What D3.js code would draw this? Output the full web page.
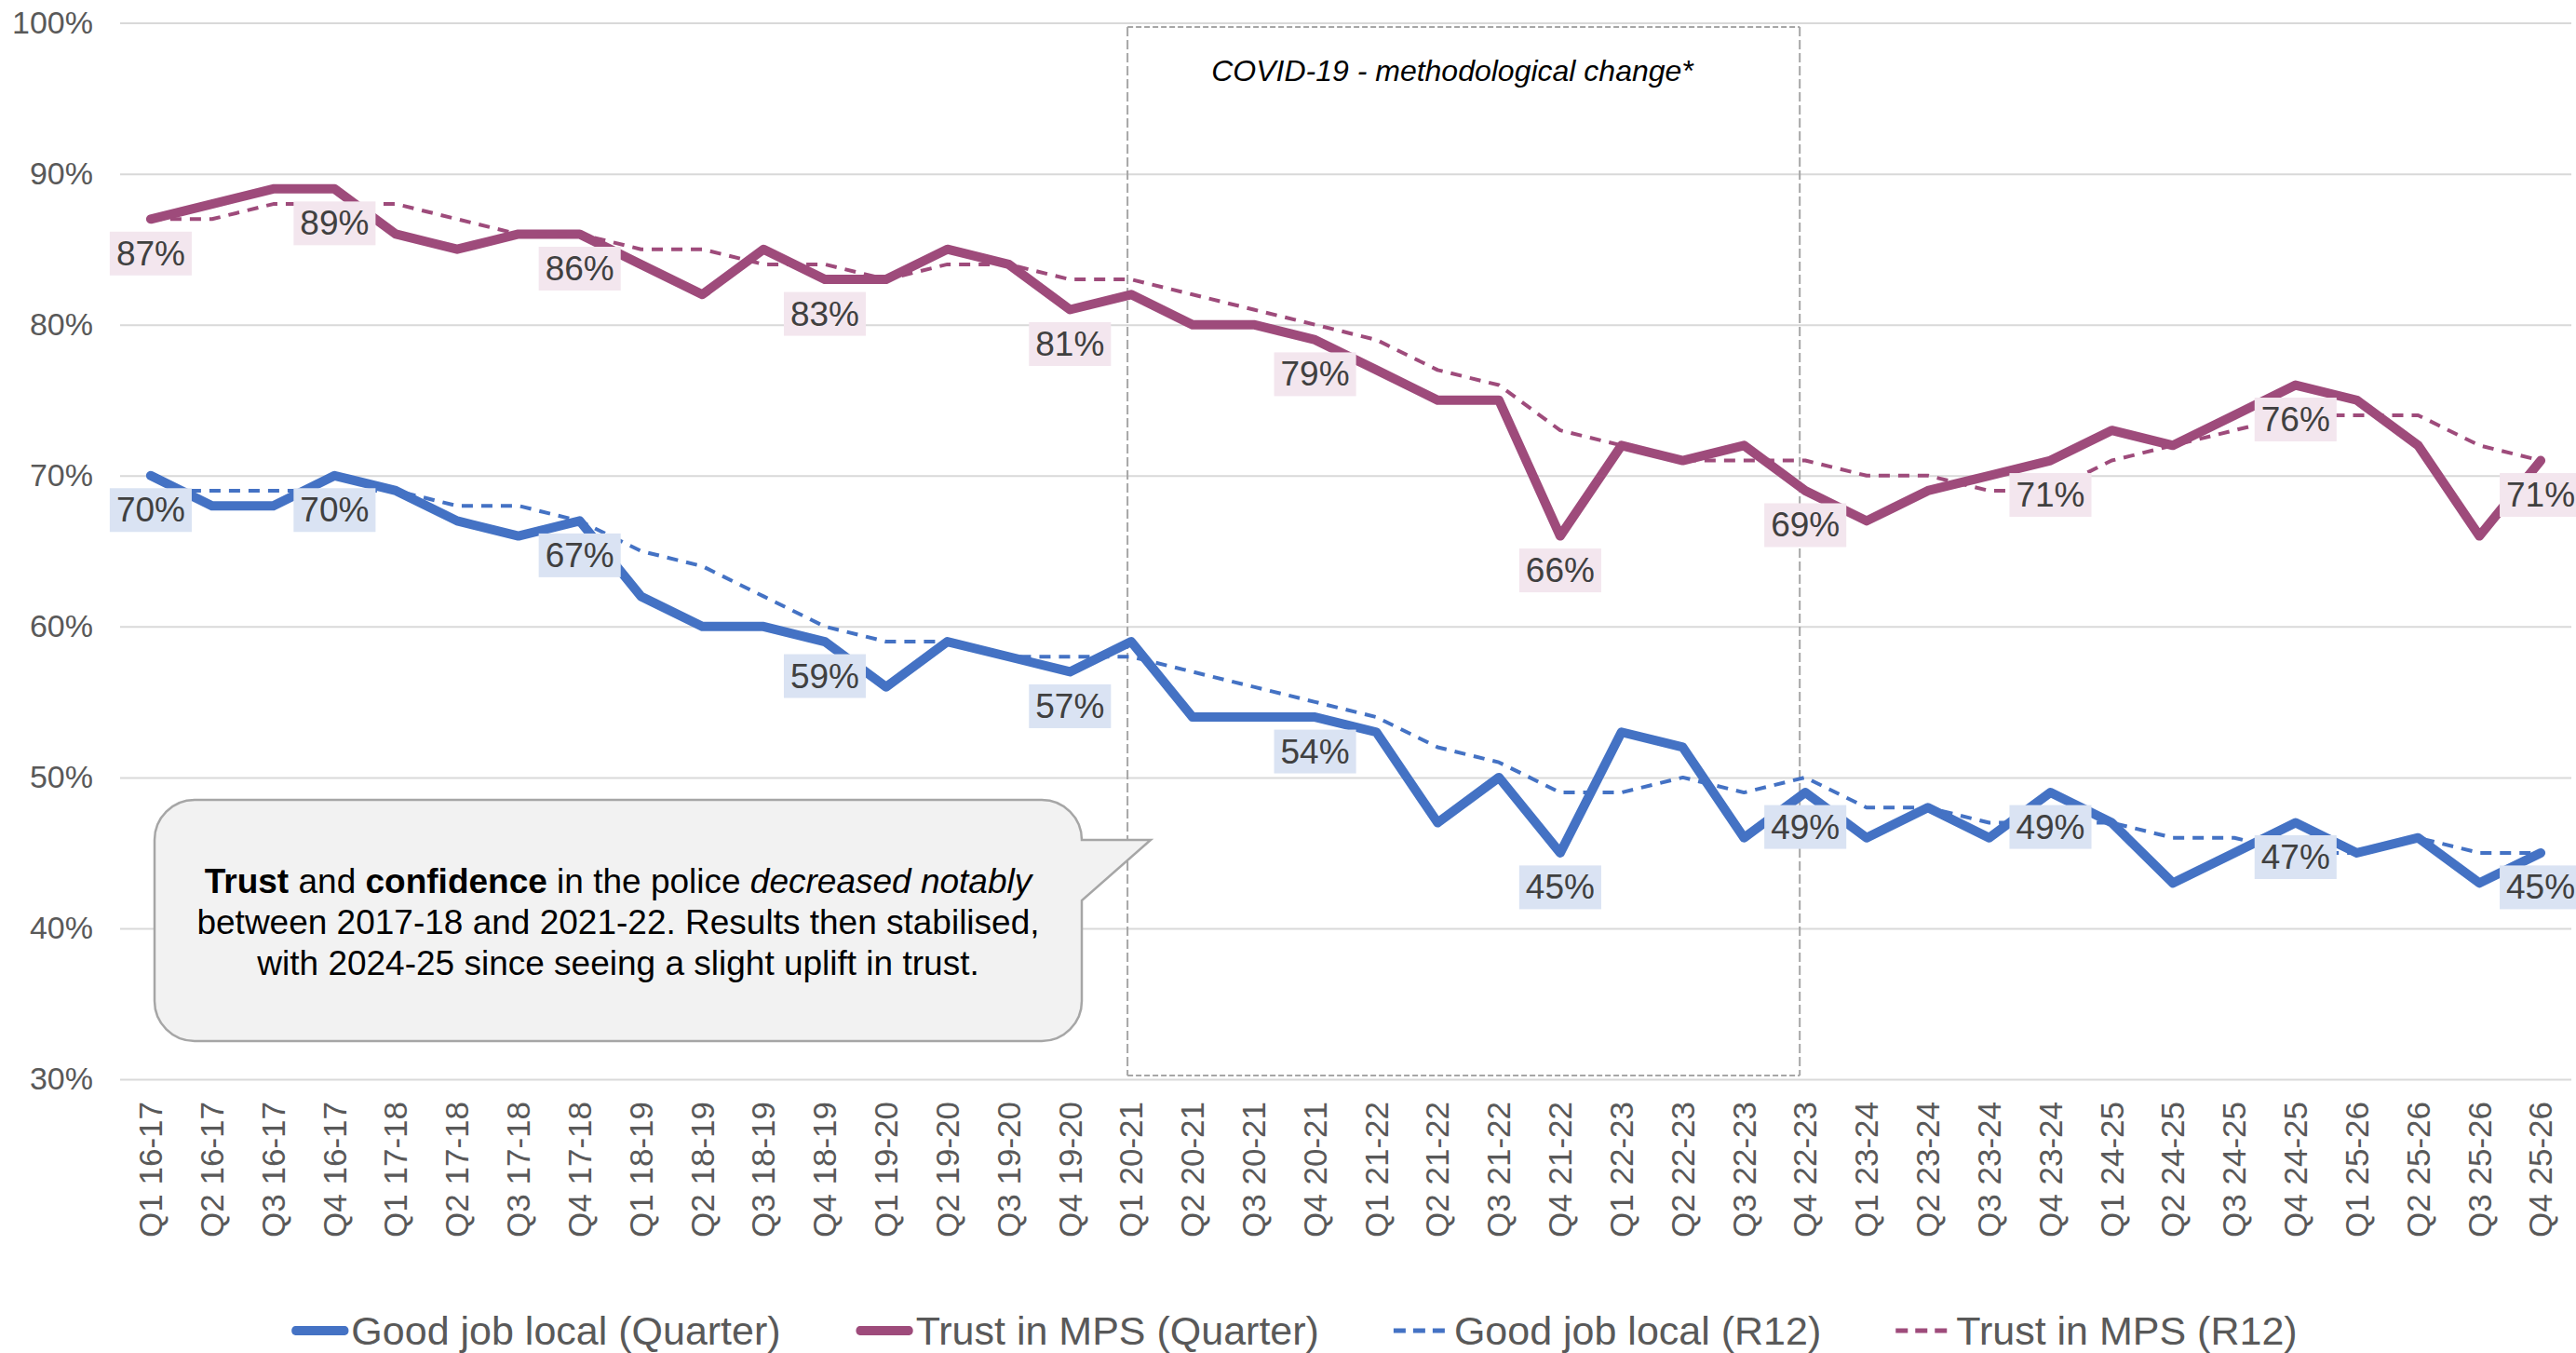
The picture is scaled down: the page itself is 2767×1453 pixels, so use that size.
<!DOCTYPE html>
<html><head><meta charset="utf-8">
<script src="https://cdn.jsdelivr.net/npm/d3@7"></script>
<style>
html,body{margin:0;padding:0;background:#fff;}
svg{display:block;}
</style></head><body>
<svg id="chart" width="2767" height="1453"></svg>
<script>
const categories = [
  "Q1 16-17","Q2 16-17","Q3 16-17","Q4 16-17",
  "Q1 17-18","Q2 17-18","Q3 17-18","Q4 17-18",
  "Q1 18-19","Q2 18-19","Q3 18-19","Q4 18-19",
  "Q1 19-20","Q2 19-20","Q3 19-20","Q4 19-20",
  "Q1 20-21","Q2 20-21","Q3 20-21","Q4 20-21",
  "Q1 21-22","Q2 21-22","Q3 21-22","Q4 21-22",
  "Q1 22-23","Q2 22-23","Q3 22-23","Q4 22-23",
  "Q1 23-24","Q2 23-24","Q3 23-24","Q4 23-24",
  "Q1 24-25","Q2 24-25","Q3 24-25","Q4 24-25",
  "Q1 25-26","Q2 25-26","Q3 25-26","Q4 25-26"
];
const goodQuarter  = [70,68,68,70,69,67,66,67,62,60, 60,59,56,59,58,57,59,54,54,54, 53,47,50,45,53,52,46,49,46,48, 46,49,47,43,45,47,45,46,43,45];
const trustQuarter = [87,88,89,89,86,85,86,86,84,82, 85,83,83,85,84,81,82,80,80,79, 77,75,75,66,72,71,72,69,67,69, 70,71,73,72,74,76,75,72,66,71];
const goodR12      = [69,69,69,69,69,68,68,67,65,64, 62,60,59,59,58,58,58,57,56,55, 54,52,51,49,49,50,49,50,48,48, 47,47,47,46,46,45,45,46,45,45];
const trustR12     = [87,87,88,88,88,87,86,86,85,85, 84,84,83,84,84,83,83,82,81,80, 79,77,76,73,72,71,71,71,70,70, 69,69,71,72,73,74,74,74,72,71];
const yTicks = [30,40,50,60,70,80,90,100];
const labelIndices = [0,3,7,11,15,19,23,27,31,35,39];
const seriesNames = ["Good job local (Quarter)","Trust in MPS (Quarter)","Good job local (R12)","Trust in MPS (R12)"];
const covidNote = "COVID-19 - methodological change*";
const covidRange = ["Q1 20-21","Q4 22-23"];
const calloutLines = [
  [{t:"Trust",b:true},{t:" and "},{t:"confidence",b:true},{t:" in the police "},{t:"decreased notably",i:true}],
  [{t:"between 2017-18 and 2021-22. Results then stabilised,"}],
  [{t:"with 2024-25 since seeing a slight uplift in trust."}]
];

const FONT = "'Liberation Sans', Arial, Helvetica, sans-serif";
const BLUE = "#4472C4", PLUM = "#9E4B7B";
const svg = d3.select("#chart").attr("font-family", FONT);

const plot = {left:129, right:2762, top:24.6, bottom:1159};
const x = d3.scaleBand().domain(categories).range([plot.left, plot.right]).paddingInner(0).paddingOuter(0);
const xc = c => x(c) + x.bandwidth()/2;
const y = d3.scaleLinear().domain([30,100]).range([plot.bottom, plot.top]);

// Y axis + gridlines
svg.append("g")
  .attr("transform", `translate(${plot.left},0)`)
  .call(d3.axisLeft(y).tickValues(yTicks).tickSize(-(plot.right-plot.left)).tickPadding(29).tickFormat(d => d + "%"))
  .call(g => {
    g.attr("font-family", FONT);
    g.select(".domain").remove();
    g.selectAll(".tick line").attr("stroke", "#d9d9d9").attr("stroke-width", 2);
    g.selectAll(".tick text").attr("fill", "#595959").attr("font-size", 34);
  });

// X axis labels
svg.append("g")
  .attr("transform", `translate(0,${plot.bottom})`)
  .call(d3.axisBottom(x).tickSize(0).tickPadding(0))
  .call(g => {
    g.attr("font-family", FONT);
    g.select(".domain").remove();
    g.selectAll(".tick text")
      .attr("transform", "rotate(-90)")
      .attr("x", -24).attr("y", 0).attr("dy", "0.35em")
      .attr("text-anchor", "end")
      .attr("fill", "#595959").attr("font-size", 35);
  });

// COVID box
const cx0 = xc(covidRange[0]) - 4, cx1 = xc(covidRange[1]) - 6;
const cy0 = y(100) + 4.4, cy1 = y(30) - 4;
const covid = svg.append("g").attr("stroke", "#a6a6a6").attr("stroke-width", 2).attr("fill", "none");
covid.append("line").attr("x1", cx0).attr("x2", cx1).attr("y1", cy0).attr("y2", cy0).attr("stroke-dasharray", "6,3");
covid.append("line").attr("x1", cx0).attr("x2", cx1).attr("y1", cy1).attr("y2", cy1).attr("stroke-dasharray", "6,3");
covid.append("line").attr("x1", cx0).attr("x2", cx0).attr("y1", cy0).attr("y2", cy1).attr("stroke-dasharray", "10,4");
covid.append("line").attr("x1", cx1).attr("x2", cx1).attr("y1", cy0).attr("y2", cy1).attr("stroke-dasharray", "10,4");
svg.append("text").attr("x", 1560).attr("y", 76).attr("dominant-baseline", "central")
  .attr("text-anchor", "middle").attr("font-style", "italic").attr("font-size", 32).attr("fill", "#000")
  .text(covidNote);

// Lines
const lineGen = d3.line().x((d,i) => xc(categories[i])).y(d => y(d));
const series = [
  {values: goodQuarter, color: BLUE, width: 10, dash: null},
  {values: trustQuarter, color: PLUM, width: 10, dash: null},
  {values: goodR12, color: BLUE, width: 4, dash: "12,9"},
  {values: trustR12, color: PLUM, width: 4, dash: "12,9"}
];
series.forEach(s => {
  svg.append("path").datum(s.values)
    .attr("d", lineGen).attr("fill", "none")
    .attr("stroke", s.color).attr("stroke-width", s.width)
    .attr("stroke-linejoin", "round").attr("stroke-linecap", s.dash ? "butt" : "round")
    .attr("stroke-dasharray", s.dash);
});

// Data labels
function addLabels(values, bg) {
  labelIndices.forEach(i => {
    const px = xc(categories[i]), py = y(values[i]) + 37;
    const g = svg.append("g");
    const t = g.append("text").attr("x", px).attr("y", py).attr("dominant-baseline", "central")
      .attr("text-anchor", "middle").attr("font-size", 37).attr("fill", "#404040").text(values[i] + "%");
    const w = t.node().getComputedTextLength() + 14;
    g.insert("rect", "text").attr("x", px - w/2).attr("y", py - 23.5).attr("width", w).attr("height", 47).attr("fill", bg);
  });
}
addLabels(trustQuarter, "#F3E6EE");
addLabels(goodQuarter, "#DAE3F3");

// Callout
const bx0 = 166, bx1 = 1162, by0 = 859, by1 = 1118, r = 43;
const tipX = 1236, tailTop = by0 + r, tailBot = 967;
svg.append("path")
  .attr("d", `M${bx0+r},${by0} H${bx1-r} A${r},${r} 0 0 1 ${bx1},${tailTop} L${tipX},${tailTop} L${bx1},${tailBot} V${by1-r} A${r},${r} 0 0 1 ${bx1-r},${by1} H${bx0+r} A${r},${r} 0 0 1 ${bx0},${by1-r} V${by0+r} A${r},${r} 0 0 1 ${bx0+r},${by0} Z`)
  .attr("fill", "#f2f2f2").attr("stroke", "#a6a6a6").attr("stroke-width", 2.5);
const lineYs = [946, 990, 1034];
calloutLines.forEach((parts, li) => {
  const t = svg.append("text").attr("x", (bx0+bx1)/2).attr("y", lineYs[li]).attr("dominant-baseline", "central")
    .attr("text-anchor", "middle").attr("font-size", 37).attr("fill", "#000");
  parts.forEach(p => {
    t.append("tspan").attr("font-weight", p.b ? "bold" : null).attr("font-style", p.i ? "italic" : null).text(p.t);
  });
});

// Legend
const legY = 1429, swW = 63, legGap = 80;
const leg = svg.append("g");
const items = series.map((s, i) => {
  const g = leg.append("g");
  g.append("line").attr("x1", 0).attr("x2", swW).attr("y1", 0).attr("y2", 0)
    .attr("stroke", s.color).attr("stroke-width", s.dash ? 5 : 10)
    .attr("stroke-linecap", s.dash ? "butt" : "round")
    .attr("stroke-dasharray", s.dash ? "13,8" : null)
    .attr("transform", s.dash ? null : "translate(5,0) scale(0.84,1)");
  const t = g.append("text").attr("x", swW + 2).attr("y", 0).attr("dominant-baseline", "central")
    .attr("font-size", 43).attr("fill", "#595959").text(seriesNames[i]);
  return {g, w: swW + 2 + t.node().getComputedTextLength()};
});
const totalW = d3.sum(items, d => d.w) + legGap * (items.length - 1);
let lx = 1390 - totalW/2;
items.forEach(it => { it.g.attr("transform", `translate(${lx},${legY})`); lx += it.w + legGap; });
</script>
</body></html>
